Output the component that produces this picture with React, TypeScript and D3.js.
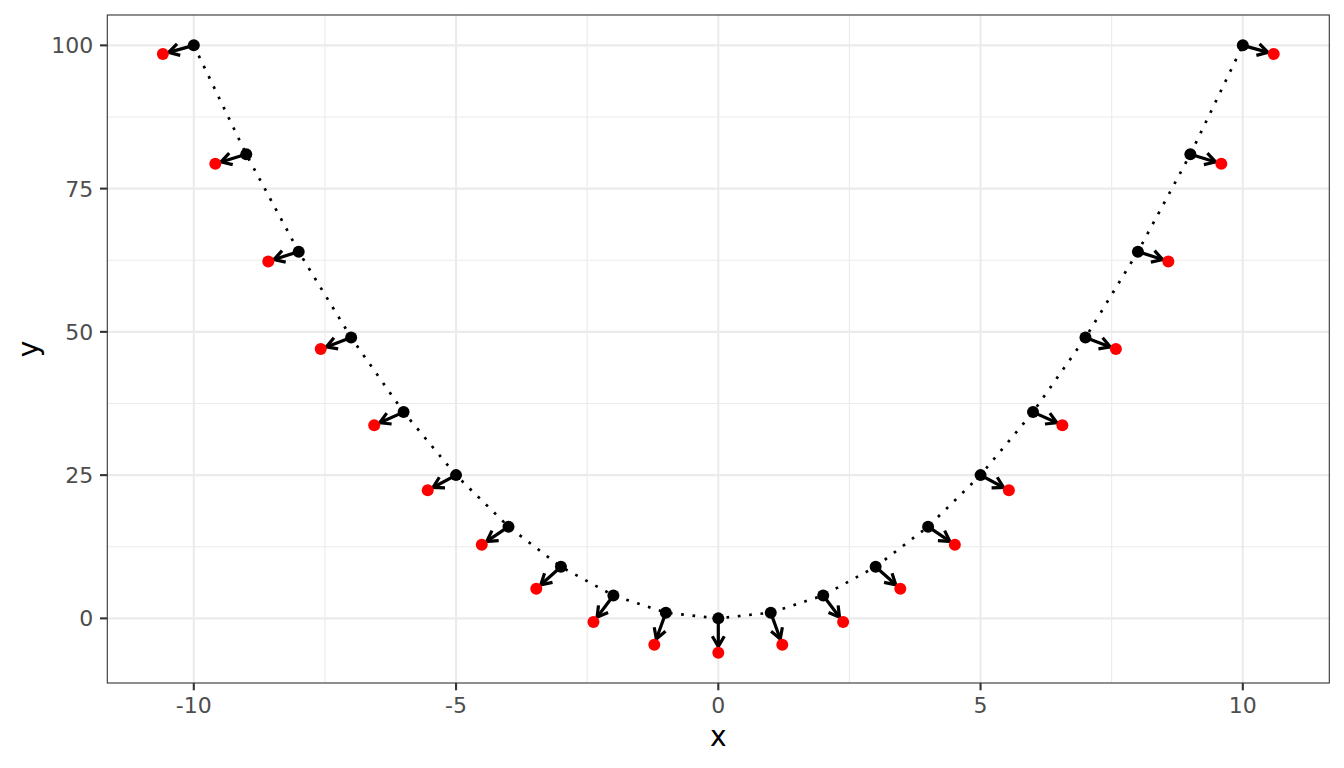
import React from "react";
import * as d3 from "d3";

const xs = [-10, -9, -8, -7, -6, -5, -4, -3, -2, -1, 0, 1, 2, 3, 4, 5, 6, 7, 8, 9, 10];
const ys = [100, 81, 64, 49, 36, 25, 16, 9, 4, 1, 0, 1, 4, 9, 16, 25, 36, 49, 64, 81, 100];
const redX = [-10.59, -9.59, -8.58, -7.58, -6.56, -5.54, -4.51, -3.47, -2.38, -1.22, 0, 1.22, 2.38, 3.47, 4.51, 5.54, 6.56, 7.58, 8.58, 9.59, 10.59];
const redY = [98.5, 79.35, 62.3, 47.0, 33.7, 22.35, 12.85, 5.17, -0.64, -4.59, -5.98, -4.59, -0.64, 5.17, 12.85, 22.35, 33.7, 47.0, 62.3, 79.35, 98.5];
const xTicks = [-10, -5, 0, 5, 10];
const yTicks = [0, 25, 50, 75, 100];
const xMinor = [-7.5, -2.5, 2.5, 7.5];
const yMinor = [12.5, 37.5, 62.5, 87.5];

const W = 1344, H = 768;
const L = 107.3, R = 1329.3, T = 15, B = 683;
const FONT = "'DejaVu Sans', sans-serif";

function expand(vals: number[]): [number, number] {
  const lo = d3.min(vals)!, hi = d3.max(vals)!;
  const pad = (hi - lo) * 0.05;
  return [lo - pad, hi + pad];
}

export default function App() {
  const x = d3.scaleLinear().domain(expand([...xs, ...redX])).range([L, R]);
  const y = d3.scaleLinear().domain(expand([...ys, ...redY])).range([B, T]);
  const line = d3.line<number>().x((_, i) => x(xs[i])).y((_, i) => y(ys[i]));

  const arrows = xs.map((_, i) => {
    const x0 = x(xs[i]), y0 = y(ys[i]);
    const x1r = x(redX[i]), y1r = y(redY[i]);
    const dx = x1r - x0, dy = y1r - y0;
    const len = Math.hypot(dx, dy);
    const ux = dx / len, uy = dy / len;
    const x1 = x1r - ux * 6, y1 = y1r - uy * 6;
    const hl = 12, ang = Math.PI / 6;
    const a = Math.atan2(uy, ux);
    const w1x = x1 - hl * Math.cos(a - ang), w1y = y1 - hl * Math.sin(a - ang);
    const w2x = x1 - hl * Math.cos(a + ang), w2y = y1 - hl * Math.sin(a + ang);
    return { x0, y0, x1, y1, w1x, w1y, w2x, w2y };
  });

  return (
    <svg width={W} height={H} style={{ position: "absolute", left: 0, top: 0 }}>
      <rect x={0} y={0} width={W} height={H} fill="#fff" />
      {xMinor.map((v) => (
        <line key={"xm" + v} x1={x(v)} x2={x(v)} y1={T} y2={B} stroke="#EBEBEB" strokeWidth={1.1} />
      ))}
      {yMinor.map((v) => (
        <line key={"ym" + v} x1={L} x2={R} y1={y(v)} y2={y(v)} stroke="#EBEBEB" strokeWidth={1.1} />
      ))}
      {xTicks.map((v) => (
        <line key={"xg" + v} x1={x(v)} x2={x(v)} y1={T} y2={B} stroke="#EBEBEB" strokeWidth={2.1} />
      ))}
      {yTicks.map((v) => (
        <line key={"yg" + v} x1={L} x2={R} y1={y(v)} y2={y(v)} stroke="#EBEBEB" strokeWidth={2.1} />
      ))}
      <path d={line(xs) || ""} fill="none" stroke="#000" strokeWidth={2.7} strokeDasharray="2.7 8.7" />
      {arrows.map((a, i) => (
        <g key={"a" + i} stroke="#000" strokeWidth={3.2} fill="none" strokeLinecap="butt">
          <line x1={a.x0} y1={a.y0} x2={a.x1} y2={a.y1} />
          <polyline points={`${a.w1x},${a.w1y} ${a.x1},${a.y1} ${a.w2x},${a.w2y}`} strokeLinejoin="miter" />
        </g>
      ))}
      {xs.map((v, i) => (
        <circle key={"b" + i} cx={x(v)} cy={y(ys[i])} r={6} fill="#000" />
      ))}
      {redX.map((v, i) => (
        <circle key={"r" + i} cx={x(v)} cy={y(redY[i])} r={6} fill="#FF0000" />
      ))}
      <rect x={L} y={T} width={R - L} height={B - T} fill="none" stroke="#333333" strokeWidth={1.1} />
      {xTicks.map((v) => (
        <g key={"xt" + v}>
          <line x1={x(v)} x2={x(v)} y1={B} y2={B + 7.3} stroke="#333333" strokeWidth={2.1} />
          <text x={x(v)} y={B + 30} textAnchor="middle" fontFamily={FONT} fontSize={22} fill="#4D4D4D">
            {v}
          </text>
        </g>
      ))}
      {yTicks.map((v) => (
        <g key={"yt" + v}>
          <line x1={L - 7.3} x2={L} y1={y(v)} y2={y(v)} stroke="#333333" strokeWidth={2.1} />
          <text x={L - 14} y={y(v)} dy="0.36em" textAnchor="end" fontFamily={FONT} fontSize={22} fill="#4D4D4D">
            {v}
          </text>
        </g>
      ))}
      <text x={(L + R) / 2} y={746} textAnchor="middle" fontFamily={FONT} fontSize={28} fill="#000">
        x
      </text>
      <text
        transform={`translate(38, ${(T + B) / 2}) rotate(-90)`}
        textAnchor="middle"
        fontFamily={FONT}
        fontSize={28}
        fill="#000"
      >
        y
      </text>
    </svg>
  );
}
